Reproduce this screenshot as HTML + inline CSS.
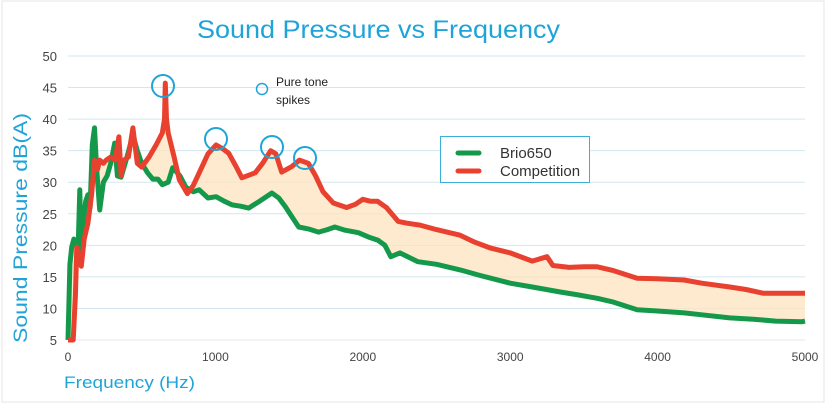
<!DOCTYPE html>
<html><head><meta charset="utf-8"><style>
html,body{margin:0;padding:0;background:#fff;}
svg{display:block;font-family:"Liberation Sans",sans-serif;}
</style></head><body>
<svg id="chart" width="826" height="403" viewBox="0 0 826 403">
<rect x="2" y="1" width="822" height="401" fill="none" stroke="#e6e6e6" stroke-width="1"/>
<text x="197" y="38" font-size="25" fill="#1ea4d8" textLength="363" lengthAdjust="spacingAndGlyphs">Sound Pressure vs Frequency</text>
<g id="grid"></g>
<g id="yticks"></g>
<g id="xticks"></g>
<path id="fill" fill="#fde3bd" fill-opacity="0.75"/>
<path id="green" fill="none" stroke="#14994a" stroke-width="5" stroke-linejoin="round"/>
<path id="red" fill="none" stroke="#e8412f" stroke-width="5" stroke-linejoin="round"/>
<text transform="translate(27,343) rotate(-90)" font-size="19" fill="#1ea4d8" textLength="230" lengthAdjust="spacingAndGlyphs">Sound Pressure  dB(A)</text>
<text x="64" y="388" font-size="17" fill="#1ea4d8" textLength="131" lengthAdjust="spacingAndGlyphs">Frequency (Hz)</text>
<g fill="none" stroke="#1ea4d8" stroke-width="2">
<circle cx="163" cy="86" r="11"/>
<circle cx="216" cy="139" r="11"/>
<circle cx="272" cy="147" r="11"/>
<circle cx="305" cy="158" r="11"/>
<circle cx="262" cy="89" r="5.5" stroke-width="1.5"/>
</g>
<text font-size="12" fill="#222"><tspan x="276" y="86">Pure tone</tspan><tspan x="276" y="104">spikes</tspan></text>
<g>
<rect x="440.5" y="136.5" width="149" height="46" fill="#fff" stroke="#3ab0d8" stroke-width="1"/>
<line x1="458" y1="153" x2="479" y2="153" stroke="#14994a" stroke-width="5" stroke-linecap="round"/>
<text x="500" y="158" font-size="15" fill="#333">Brio650</text>
<line x1="458" y1="171" x2="479" y2="171" stroke="#e8412f" stroke-width="5" stroke-linecap="round"/>
<text x="500" y="176" font-size="15" fill="#333">Competition</text>
</g>
</svg>
<script>
const yTicks=[5,10,15,20,25,30,35,40,45,50];
const xTicks=[0,1000,2000,3000,4000,5000];
const greenFreq=[0,13,25,40,55,70,80,90,105,120,135,150,165,180,195,215,240,265,290,317,335,360,400,440,470,500,540,575,610,640,680,710,760,800,850,890,950,1005,1060,1113,1170,1225,1300,1383,1430,1475,1520,1565,1630,1700,1760,1810,1880,1970,2040,2104,2150,2190,2252,2374,2500,2660,2800,3000,3150,3340,3450,3590,3700,3860,4000,4180,4300,4490,4650,4800,4980,5000];
const greenVal=[5,17,19.7,21,20,20.5,28.8,17,24,27,28,26,36,38.6,32,25.6,30,31,33,36.2,31,30.8,34,37.5,35,33,31.5,30.5,30.5,29.6,30,32.3,31,29.2,28.5,28.8,27.5,27.7,27,26.4,26.2,25.9,27,28.3,27.5,26.1,24.5,22.9,22.6,22.1,22.5,22.9,22.4,22,21.3,20.8,20,18.2,18.8,17.4,17,16.1,15.2,14,13.4,12.6,12.2,11.6,11,9.8,9.6,9.3,9,8.5,8.3,8,7.9,8];
const redFreq=[0,35,50,60,75,90,110,135,160,180,200,215,240,260,290,320,345,360,380,410,440,470,500,550,600,640,655,660,668,680,720,755,810,850,890,950,1005,1050,1090,1140,1180,1270,1320,1375,1410,1450,1520,1570,1630,1680,1730,1800,1890,1950,2000,2050,2100,2160,2240,2300,2388,2500,2660,2760,2863,3000,3150,3250,3290,3400,3500,3590,3700,3860,4000,4180,4300,4490,4600,4720,4850,5000];
const redVal=[5,5,12,19.7,18,16.7,21,23.5,28,33.5,32,33.5,33,33.5,34,33.5,37.2,31,33.5,34,38.6,33,32.4,34,36,37.8,40,45.7,40,37.8,34,30.4,28.2,29.5,31.5,34.5,35.9,35.3,34.6,32.5,30.7,31.5,33,35,34.5,31.6,32.5,33.5,33,31,28.5,26.7,26,26.5,27.3,27,27,26,23.8,23.5,23.2,22.5,21.6,20.5,19.6,18.8,17.5,18.2,16.8,16.5,16.6,16.6,16,14.8,14.7,14.5,14,13.4,13,12.4,12.4,12.4];
const X0=68,X1=805,Y5=340,Y50=56;
function xs(f){return X0+(f-0)/(5000-0)*(X1-X0);}
function ys(v){return Y5-(v-5)/(50-5)*(Y5-Y50);}
const NS="http://www.w3.org/2000/svg";
const grid=document.getElementById('grid'),yt=document.getElementById('yticks'),xt=document.getElementById('xticks');
yTicks.forEach(v=>{
  const l=document.createElementNS(NS,'line');
  l.setAttribute('x1',X0);l.setAttribute('x2',X1);l.setAttribute('y1',ys(v));l.setAttribute('y2',ys(v));
  l.setAttribute('stroke',v===5?'#e3e8ea':'#d3e7ef');l.setAttribute('stroke-width','1');
  
  
  grid.appendChild(l);
  const t=document.createElementNS(NS,'text');
  t.setAttribute('x',57);t.setAttribute('y',ys(v)+5);t.setAttribute('text-anchor','end');
  t.setAttribute('font-size','13');t.setAttribute('fill','#444');t.textContent=v;
  
  
  yt.appendChild(t);
});
xTicks.forEach(v=>{
  const t=document.createElementNS(NS,'text');
  t.setAttribute('x',xs(v));t.setAttribute('y',361);t.setAttribute('text-anchor','middle');
  t.setAttribute('font-size','12');t.setAttribute('fill','#444');t.textContent=v;
  
  
  xt.appendChild(t);
});
function pts(F,V){return F.map((f,i)=>[xs(f),ys(V[i])]);}
function d(P){return P.map((p,i)=>(i?'L':'M')+p[0].toFixed(1)+','+p[1].toFixed(1)).join('');}
const gp=pts(greenFreq,greenVal),rp=pts(redFreq,redVal);
document.getElementById('green').setAttribute('d',d(gp));
document.getElementById('red').setAttribute('d',d(rp));
document.getElementById('fill').setAttribute('d',d(rp)+gp.slice().reverse().map(p=>'L'+p[0].toFixed(1)+','+p[1].toFixed(1)).join('')+'Z');
</script>
</body></html>
